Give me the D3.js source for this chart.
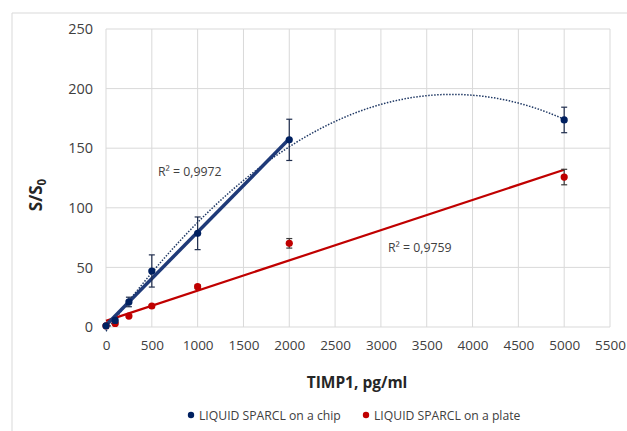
<!DOCTYPE html>
<html><head><meta charset="utf-8">
<script src="https://cdn.jsdelivr.net/npm/d3@7"></script>
<style>body{margin:0;background:#fff}svg{display:block}text{font-family:"Open Sans",sans-serif;fill:#404040}</style>
</head><body><svg id="c" width="627" height="431"></svg>
<script>
const concentrations = [0, 100, 250, 500, 1000, 2000, 5000];
const chipValues = [1, 5.5, 21, 47, 78.6, 157, 173.7];
const chipErrors = [1, 2, 4, 13.5, 13.7, 17.3, 10.7];
const plateValues = [1, 3, 9.2, 17.6, 33.8, 70.2, 125.8];
const plateErrors = [0.5, 1, 1, 1, 1.5, 4, 6.5];
const xTicks = [0,500,1000,1500,2000,2500,3000,3500,4000,4500,5000,5500];
const yTicks = [0,50,100,150,200,250];
const chipR2 = "R² = 0,9972";
const plateR2 = "R² = 0,9759";
const seriesNames = ["LIQUID SPARCL on a chip", "LIQUID SPARCL on a plate"];

const svg = d3.select("#c");
const x = d3.scaleLinear().domain([0,5500]).range([106,610]);
const y = d3.scaleLinear().domain([0,250]).range([327,29]);
const navy = "#002060", red = "#c00000";

// outer border
svg.append("path").attr("d","M12,440V13H640").attr("fill","none").attr("stroke","#d9d9d9").attr("stroke-width",1);

// gridlines
svg.append("g").selectAll("line").data(xTicks).join("line")
  .attr("x1",d=>x(d)).attr("x2",d=>x(d)).attr("y1",y(0)).attr("y2",y(250))
  .attr("stroke","#d9d9d9").attr("stroke-width",1);
svg.append("g").selectAll("line").data(yTicks).join("line")
  .attr("x1",x(0)).attr("x2",x(5500)).attr("y1",d=>y(d)).attr("y2",d=>y(d))
  .attr("stroke","#d9d9d9").attr("stroke-width",1);

// axes
const xa = svg.append("g").attr("transform",`translate(0,${y(0)})`)
  .call(d3.axisBottom(x).tickValues(xTicks).tickSize(0).tickPadding(13).tickFormat(d3.format("d")));
xa.select(".domain").remove();
xa.selectAll("text").attr("font-size",13.5).attr("fill","#404040").attr("font-family","Open Sans");
const ya = svg.append("g").attr("transform",`translate(${x(0)},0)`)
  .call(d3.axisLeft(y).tickValues(yTicks).tickSize(0).tickPadding(13).tickFormat(d3.format("d")));
ya.select(".domain").remove();
ya.selectAll("text").attr("font-size",14.5).attr("fill","#404040").attr("font-family","Open Sans");

// regressions (least squares from the data, as Excel trendlines)
function polyFit(xs, ys, deg){
  const n = deg+1;
  const A = Array.from({length:n},()=>Array(n+1).fill(0));
  xs.forEach((xv,i)=>{
    for(let r=0;r<n;r++){
      for(let c=0;c<n;c++) A[r][c]+=Math.pow(xv,r+c);
      A[r][n]+=ys[i]*Math.pow(xv,r);
    }
  });
  for(let i=0;i<n;i++){
    let p=i; for(let k=i+1;k<n;k++) if(Math.abs(A[k][i])>Math.abs(A[p][i])) p=k;
    [A[i],A[p]]=[A[p],A[i]];
    for(let k=0;k<n;k++){ if(k===i) continue; const f=A[k][i]/A[i][i]; for(let c=i;c<=n;c++) A[k][c]-=f*A[i][c]; }
  }
  const coef = A.map((row,i)=>row[n]/row[i]);
  return xv=>coef.reduce((s,c,i)=>s+c*Math.pow(xv,i),0);
}
const chipLinX = concentrations.filter(d=>d<=2000);
const chipLin = polyFit(chipLinX, chipValues.slice(0,chipLinX.length), 1);
const chipQuad = polyFit(concentrations, chipValues, 2);
const plateLin = polyFit(concentrations, plateValues, 1);
const line = d3.line().x(d=>x(d[0])).y(d=>y(d[1]));

const quadPts = d3.range(0,5001,25).map(v=>[v,chipQuad(v)]);
svg.append("path").attr("d",line(quadPts)).attr("fill","none").attr("stroke","#1f3864")
  .attr("stroke-width",1.5).attr("stroke-dasharray","1.5,1.5");
svg.append("path").attr("d",line([[0,plateLin(0)],[5000,plateLin(5000)]])).attr("fill","none")
  .attr("stroke",red).attr("stroke-width",2.2);
svg.append("path").attr("d",line([[0,chipLin(0)],[2000,chipLin(2000)]])).attr("fill","none")
  .attr("stroke","#1f3a78").attr("stroke-width",3.5);

// error bars & points
function drawSeries(vals, errs, color, ecolor){
  const g = svg.append("g");
  const data = concentrations.map((c,i)=>({c, v:vals[i], e:errs[i]}));
  data.forEach(d=>{
    const eg = g.append("g").attr("stroke",ecolor).attr("stroke-width",1.2);
    eg.append("line").attr("x1",x(d.c)).attr("x2",x(d.c)).attr("y1",y(d.v-d.e)).attr("y2",y(d.v+d.e));
    [d.v-d.e,d.v+d.e].forEach(t=>eg.append("line").attr("x1",x(d.c)-3).attr("x2",x(d.c)+3).attr("y1",y(t)).attr("y2",y(t)));
  });
  g.selectAll("circle").data(data).join("circle").attr("cx",d=>x(d.c)).attr("cy",d=>y(d.v)).attr("r",3.6).attr("fill",color);
}
drawSeries(plateValues, plateErrors, red, "#3a3a3a");
drawSeries(chipValues, chipErrors, navy, "#1f2d4d");

// R2 labels
svg.append("text").attr("x",158).attr("y",176).attr("font-size",12.3).text(chipR2);
svg.append("text").attr("x",388).attr("y",252).attr("font-size",12.3).text(plateR2);

// axis titles
svg.append("text").attr("x",357).attr("y",388).attr("text-anchor","middle").attr("font-size",15.5)
  .attr("font-weight","bold").style("fill","#262626").text("TIMP1, pg/ml");
const yt = svg.append("text").attr("transform","translate(42,195) rotate(-90)").attr("text-anchor","middle")
  .attr("font-size",17).attr("font-weight","bold").style("fill","#262626");
yt.append("tspan").text("S/S");
yt.append("tspan").attr("font-size",11.5).attr("dy",4).text("0");

// legend
const leg = svg.append("g");
[[191,navy,seriesNames[0]],[366,red,seriesNames[1]]].forEach(([lx,col,name])=>{
  leg.append("circle").attr("cx",lx).attr("cy",415).attr("r",3.2).attr("fill",col);
  leg.append("text").attr("x",lx+8).attr("y",419.5).attr("font-size",12.2).text(name);
});
</script></body></html>
